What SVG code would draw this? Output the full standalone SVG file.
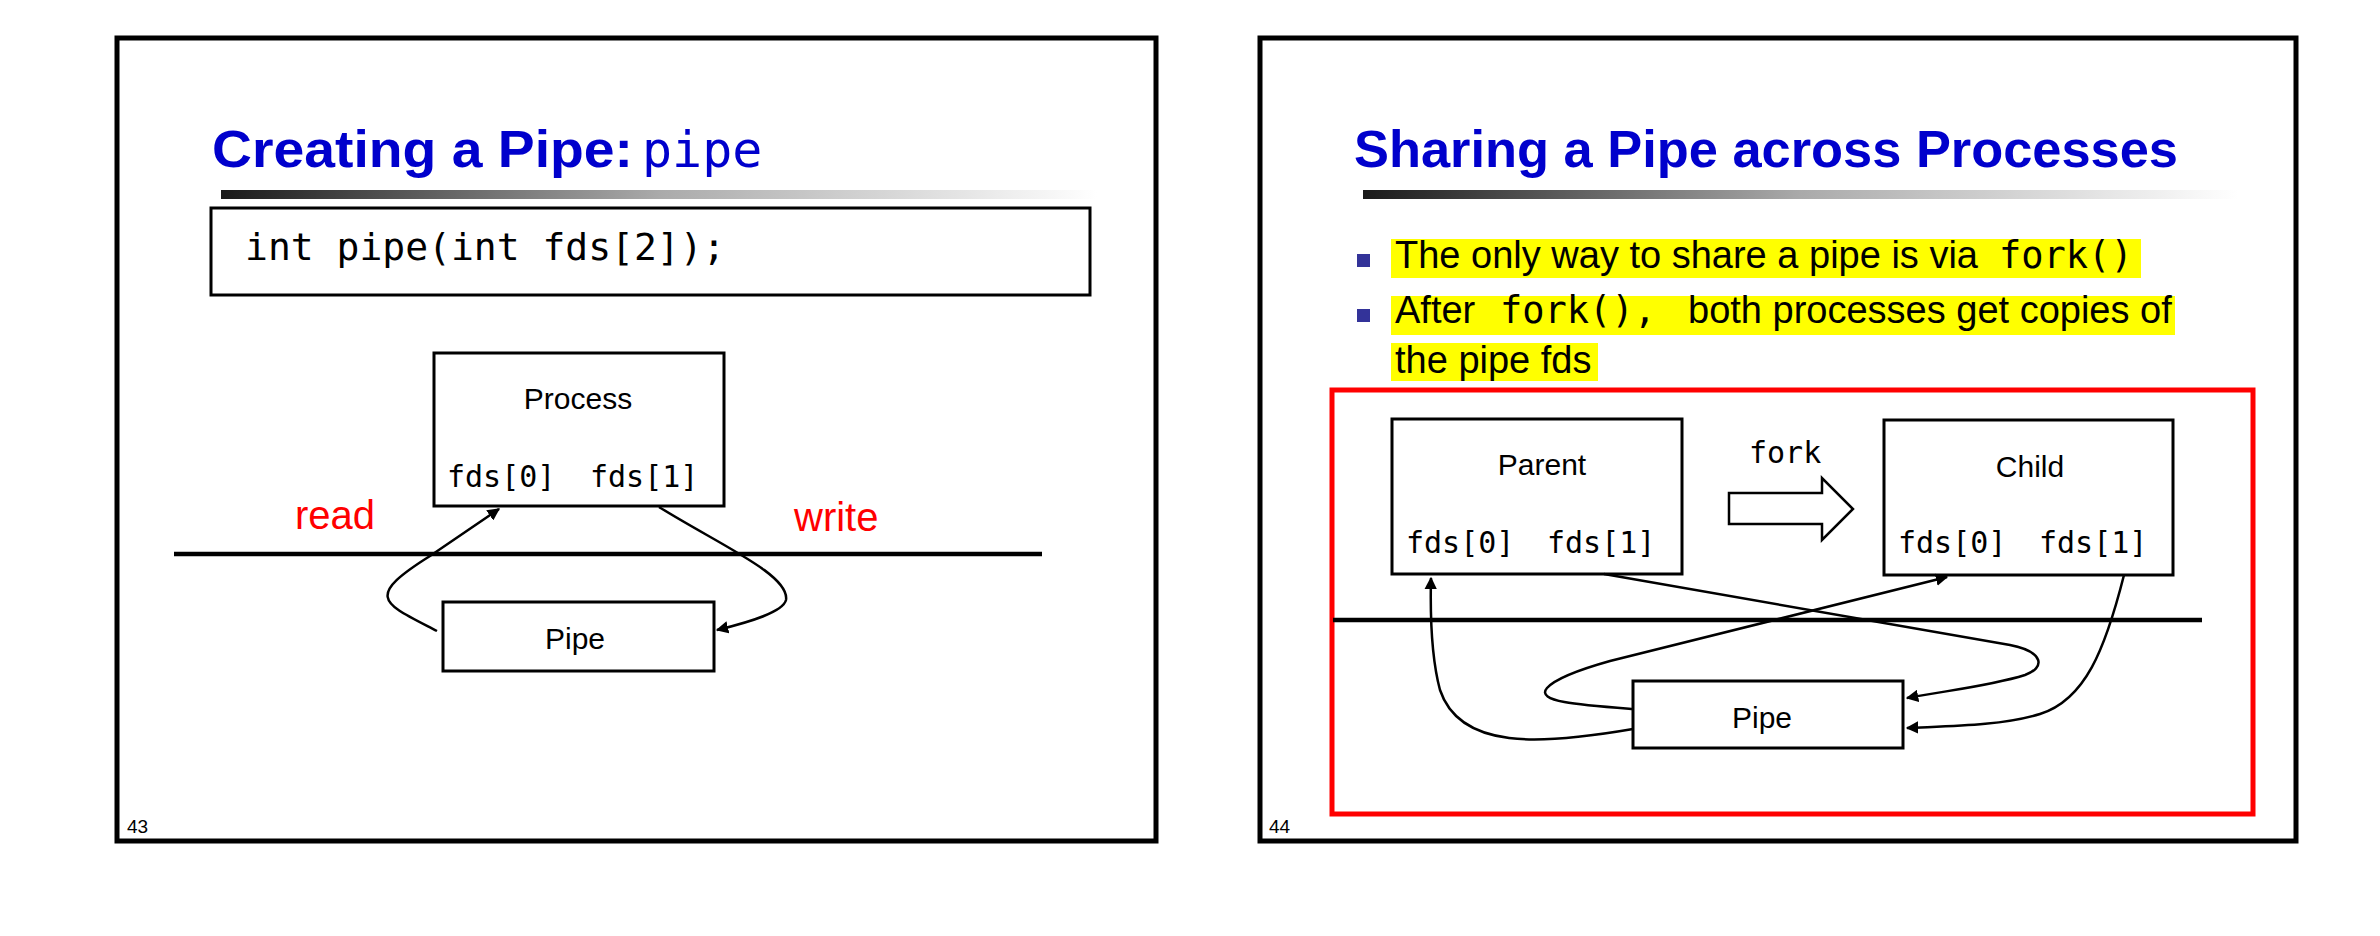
<svg xmlns="http://www.w3.org/2000/svg" width="2380" height="936" viewBox="0 0 2380 936">
<style>
.frame{fill:#fff;stroke:#000;stroke-width:5}
.box{fill:#fff;stroke:#000;stroke-width:3}
.title{font-family:"Liberation Sans",Arial,sans-serif;font-weight:bold;font-size:52px;fill:#0000CC}
.titlemono{font-family:"DejaVu Sans Mono",monospace;font-size:50px;fill:#0000CC}
.lbl{font-family:"Liberation Sans",Arial,sans-serif;font-size:30px;fill:#000}
.mono{font-family:"DejaVu Sans Mono",monospace;font-size:30px;fill:#000}
.code{font-family:"DejaVu Sans Mono",monospace;font-size:38px;fill:#000}
.body{font-family:"Liberation Sans",Arial,sans-serif;font-size:38px;fill:#000}
.bmono{font-family:"DejaVu Sans Mono",monospace;font-size:37px;fill:#000}
.red{font-family:"Liberation Sans",Arial,sans-serif;font-size:40px;fill:#FF0000}
.num{font-family:"Liberation Sans",Arial,sans-serif;font-size:19px;fill:#000}
.conn{fill:none;stroke:#000;stroke-width:2.5}
.sep{stroke:#000;stroke-width:4.5}
.hl{fill:#FFFF00}
</style>
<defs>
<linearGradient id="bar" x1="0" y1="0" x2="1" y2="0">
<stop offset="0" stop-color="#1a1a1a"/>
<stop offset="0.5" stop-color="#aaaaaa"/>
<stop offset="1" stop-color="#ffffff"/>
</linearGradient>
<marker id="arr" viewBox="0 0 10 10" refX="9" refY="5" markerWidth="5" markerHeight="5" orient="auto" markerUnits="strokeWidth">
<path d="M0,0 L10,5 L0,10 z" fill="#000"/>
</marker>
</defs>
<rect width="2380" height="936" fill="#fff"/>

<!-- Slide 43 -->
<g id="slide43">
<rect class="frame" x="117" y="38" width="1039" height="803"/>
<text class="title" x="212" y="167" textLength="421" lengthAdjust="spacingAndGlyphs">Creating a Pipe:</text>
<text class="titlemono" x="642" y="167">pipe</text>
<rect x="221" y="190" width="876" height="9" fill="url(#bar)"/>
<g id="code-box">
<rect class="box" x="211" y="208" width="879" height="87"/>
<text class="code" x="245" y="260">int pipe(int fds[2]);</text>
</g>
<text class="num" x="127" y="833">43</text>
</g>

<g id="separator43"><line class="sep" x1="174" y1="554" x2="1042" y2="554"/></g>

<g id="process">
<rect class="box" x="434" y="353" width="290" height="153"/>
<text class="lbl" x="578" y="409" text-anchor="middle">Process</text>
<text class="mono" x="447" y="487">fds[0]</text>
<text class="mono" x="590" y="487">fds[1]</text>
</g>

<g id="pipe43">
<rect class="box" x="443" y="602" width="271" height="69"/>
<text class="lbl" x="575" y="649" text-anchor="middle">Pipe</text>
</g>

<g id="label-read"><text class="red" x="295" y="529">read</text></g>
<g id="label-write"><text class="red" x="794" y="531">write</text></g>

<g id="connectors43">
<path class="conn" d="M437,631 C383,603 363,598 430,556 L499,509" marker-end="url(#arr)"/>
<path class="conn" d="M659,507 C720,545 790,575 786,600 C783,612 750,622 717,630" marker-end="url(#arr)"/>
</g>

<!-- Slide 44 -->
<g id="slide44">
<rect class="frame" x="1260" y="38" width="1036" height="803"/>
<text class="title" x="1354" y="167" textLength="824" lengthAdjust="spacingAndGlyphs">Sharing a Pipe across Processes</text>
<rect x="1363" y="190" width="875" height="9" fill="url(#bar)"/>
<rect class="hl" x="1391" y="239" width="750" height="39"/>
<rect class="hl" x="1391" y="296" width="784" height="39"/>
<rect class="hl" x="1391" y="343" width="207" height="38"/>
<rect x="1357" y="254" width="13" height="13" fill="#333399"/>
<rect x="1357" y="309" width="13" height="13" fill="#333399"/>
<text class="body" x="1395" y="268">The only way to share a pipe is via </text>
<text class="bmono" x="1999" y="268">fork()</text>
<text class="body" x="1395" y="323">After</text>
<text class="bmono" x="1500" y="323">fork(),</text>
<text class="body" x="1688" y="323">both processes get copies of</text>
<text class="body" x="1395" y="373">the pipe fds</text>
<rect x="1332" y="390" width="921" height="424" fill="none" stroke="#FF0000" stroke-width="5"/>
<text class="num" x="1269" y="833">44</text>
</g>

<g id="separator44"><line class="sep" x1="1333" y1="620" x2="2202" y2="620"/></g>

<g id="parent">
<rect class="box" x="1392" y="419" width="290" height="155"/>
<text class="lbl" x="1542" y="475" text-anchor="middle">Parent</text>
<text class="mono" x="1406" y="553">fds[0]</text>
<text class="mono" x="1547" y="553">fds[1]</text>
</g>

<g id="child">
<rect class="box" x="1884" y="420" width="289" height="155"/>
<text class="lbl" x="2030" y="477" text-anchor="middle">Child</text>
<text class="mono" x="1898" y="553">fds[0]</text>
<text class="mono" x="2039" y="553">fds[1]</text>
</g>

<g id="fork-arrow">
<polygon points="1729,493 1822,493 1822,478 1853,509 1822,540 1822,524 1729,524" fill="#fff" stroke="#000" stroke-width="2.5"/>
<text class="mono" x="1749" y="463">fork</text>
</g>

<g id="pipe44">
<rect class="box" x="1633" y="681" width="270" height="67"/>
<text class="lbl" x="1762" y="728" text-anchor="middle">Pipe</text>
</g>

<g id="connectors44">
<path class="conn" d="M1633,729 C1540,745 1460,750 1440,690 C1432,660 1430,620 1431,578" marker-end="url(#arr)"/>
<path class="conn" d="M1604,574 L2010,645 C2045,652 2045,668 2025,675 C1990,686 1950,690 1907,698" marker-end="url(#arr)"/>
<path class="conn" d="M1633,709 C1580,705 1535,702 1547,688 C1556,678 1585,668 1610,661 L1947,577" marker-end="url(#arr)"/>
<path class="conn" d="M2124,575 C2105,650 2085,700 2040,714 C2000,726 1950,726 1907,728" marker-end="url(#arr)"/>
</g>
</svg>
